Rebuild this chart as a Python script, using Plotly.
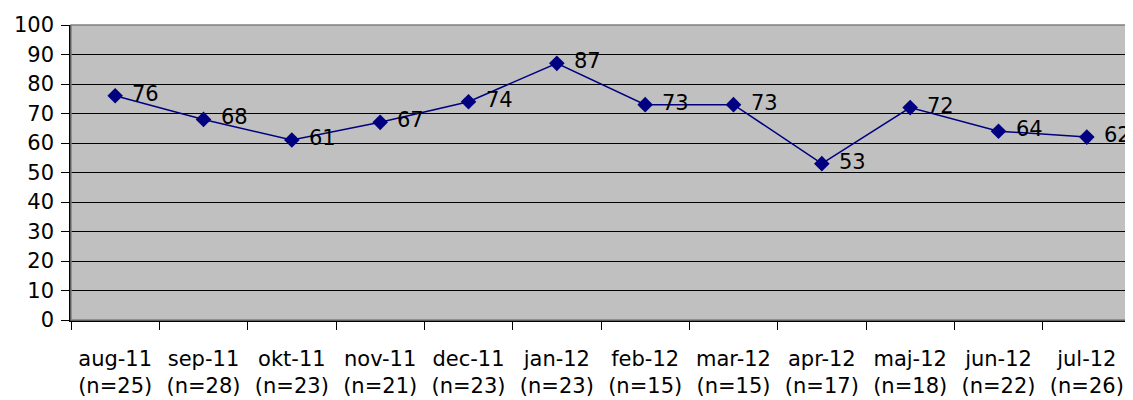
import plotly.graph_objects as go

months = ["aug-11", "sep-11", "okt-11", "nov-11", "dec-11", "jan-12",
          "feb-12", "mar-12", "apr-12", "maj-12", "jun-12", "jul-12"]
n_counts = [25, 28, 23, 21, 23, 23, 15, 15, 17, 18, 22, 26]
values = [76, 68, 61, 67, 74, 87, 73, 73, 53, 72, 64, 62]
y_ticks = [0, 10, 20, 30, 40, 50, 60, 70, 80, 90, 100]

categories = [f"{m}<br>(n={n})" for m, n in zip(months, n_counts)]

font = dict(family="DejaVu Sans, Arial, sans-serif", size=21, color="black")

fig = go.Figure(go.Scatter(
    x=categories, y=values,
    mode="lines+markers",
    line=dict(color="#000080", width=1.5),
    marker=dict(symbol="diamond", size=12, color="#000080"),
))

for c, v in zip(categories, values):
    fig.add_annotation(x=c, y=v, text=str(v), showarrow=False,
                       xanchor="left", yanchor="middle", xshift=15, yshift=2,
                       font=font)

# page body adds an 8px offset; the figure is sized to fit the 1133x400 window
fig.update_layout(
    width=1125, height=392,
    margin=dict(l=63, r=2, t=17, b=80),
    plot_bgcolor="#C0C0C0",
    paper_bgcolor="white",
    showlegend=False,
    font=font,
    shapes=[dict(type="rect", xref="paper", yref="paper", x0=0, x1=1, y0=0, y1=1,
                 line=dict(color="#808080", width=1.5), layer="above")],
)

fig.update_xaxes(
    type="category", range=[-0.5, len(categories) - 0.5],
    tickson="boundaries", ticks="outside", ticklen=8,
    tickcolor="black", showline=True, linecolor="black", linewidth=1.5,
    showgrid=False, tickfont=font, ticklabelstandoff=19, automargin=False,
)
fig.update_yaxes(
    range=[0, 100], tickvals=y_ticks, ticks="outside", ticklen=8,
    tickcolor="black", showline=True, linecolor="black", linewidth=1.5,
    showgrid=True, gridcolor="black", gridwidth=1, zeroline=False,
    tickfont=font, ticklabelstandoff=3, automargin=False,
)

fig.write_html("out.html")
